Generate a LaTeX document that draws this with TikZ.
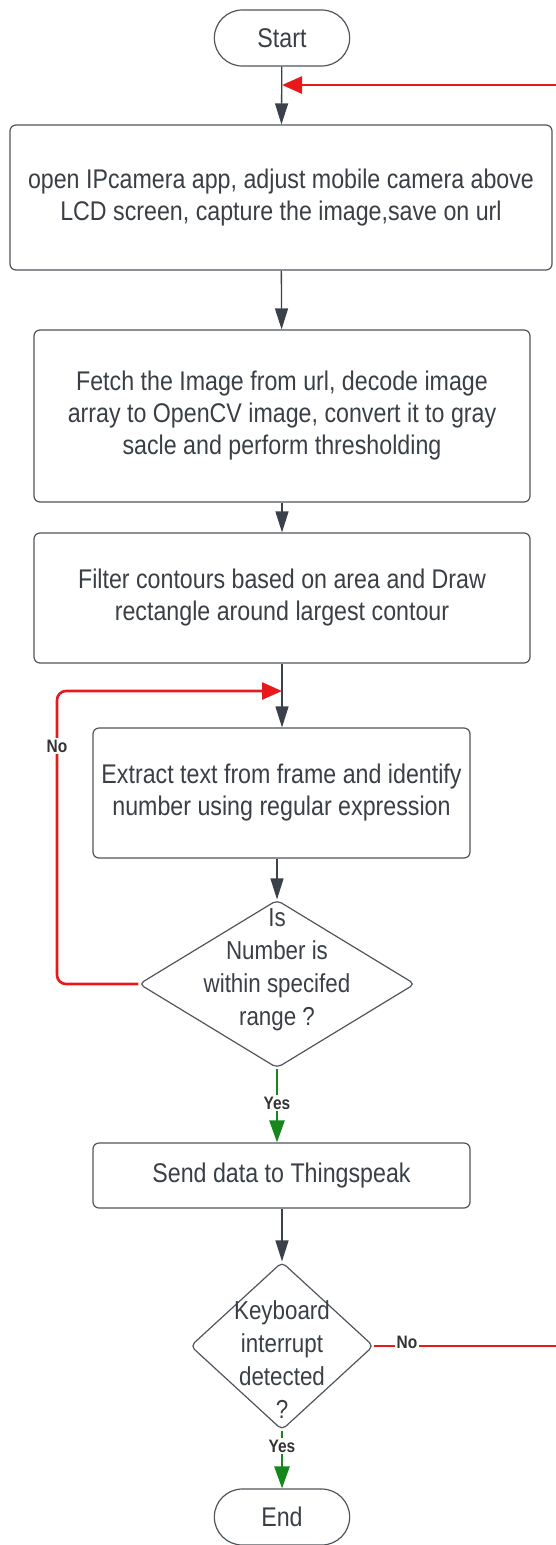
\documentclass[tikz,border=0pt]{standalone}
\usepackage{fontspec}
\setmainfont{Liberation Sans}[FakeStretch=0.86]
\usetikzlibrary{shapes.geometric,shapes.misc,arrows.meta}
\definecolor{lnc}{HTML}{50555C}
\definecolor{arc}{HTML}{3A414B}
\definecolor{txc}{HTML}{3A3F46}
\definecolor{rdc}{HTML}{E8191C}
\definecolor{gnc}{HTML}{16881B}
\tikzset{
    TE/.style ={rounded rectangle, draw=lnc, line width=1.2pt, minimum width=142pt, minimum height=56pt, text=txc, font=\fontsize{27}{32}\selectfont},
    RA/.style ={rectangle, rounded corners=6pt, draw=lnc, line width=1.2pt, inner sep=0pt, align=center, text=txc, font=\fontsize{27}{32}\selectfont},
    DM/.style ={diamond, rounded corners=5pt, draw=lnc, line width=1.2pt, inner sep=0pt},
    DT/.style ={align=center, text=txc, font=\fontsize{26}{33}\selectfont},
    AR/.style ={draw=arc, line width=1.3pt, -{Triangle[length=21pt,width=13pt]}},
    RL/.style ={draw=rdc, line width=2.6pt},
    GL/.style ={draw=gnc, line width=2.6pt, -{Triangle[length=22pt,width=15pt]}},
    SU/.style ={fill=white, inner sep=2pt, text=black!80, font=\bfseries\fontsize{18}{20}\selectfont}}

\begin{document}
\begin{tikzpicture}[x=1pt,y=-1pt]
        \useasboundingbox (0,0) rectangle (556,1545);
        \node[TE] (1) at(282,38){Start};
        \node[RA, minimum width=542pt, minimum height=145pt] (2) at(281,197.5){open IPcamera app, adjust mobile camera above\\LCD screen, capture the image,save on url};
        \node[RA, minimum width=496pt, minimum height=172pt] (3) at(282,416){Fetch the Image from url, decode image\\array to OpenCV image, convert it to gray\\sacle and perform thresholding};
        \node[RA, minimum width=496pt, minimum height=130pt] (4) at(282,598){Filter contours based on area and Draw\\rectangle around largest contour};
        \node[RA, minimum width=377pt, minimum height=130pt] (5) at(281.5,793){Extract text from frame and identify\\number using regular expression};
        \node[DM, minimum width=276pt, minimum height=168pt] (6) at(277,984){};
        \node[DT] (6t) at(277,970){Is\\Number is\\within specifed\\range ?};
        \node[RA, minimum width=377pt, minimum height=65pt] (7) at(281.5,1175.5){Send data to Thingspeak};
        \node[DM, minimum width=183pt, minimum height=168pt] (8) at(282,1346){};
        \node[DT] (8t) at(282,1360){Keyboard\\interrupt\\detected\\?};
        \node[TE] (9) at(282,1517){End};
        \coordinate (j1) at(282,85);
        \coordinate (j2) at(282,691);
        \coordinate (c1) at(57,691);
        \coordinate (r1) at(600,1346);
        \coordinate (r2) at(600,85);
        \draw[AR] (1) --(2);
        \draw[AR] (2) --(3);
        \draw[AR] (3) --(4);
        \draw[AR] (4.south) --(5.north -| 4.south);
        \draw[AR] (5.south -| 6.north) --(6.north);
        \draw[AR] (7.south -| 8.north) --(8.north);
        \draw[RL, rounded corners=9pt, -{Triangle[length=20pt,width=17pt]}] (6.west) -| (c1) --(j2);
        \draw[RL, -{Triangle[length=20pt,width=17pt]}] (8.east) --(r1) --(r2) --(j1);
        \draw[GL] (6.south) --(7.north -| 6.south);
        \draw[GL] (8.south) --(9.north);
        \node[SU] (n1) at(57,746){No};
        \node[SU] (n2) at(407,1342){No};
        \node[SU] (y1) at(277,1103){Yes};
        \node[SU] (y2) at(282,1446){Yes};
    \end{tikzpicture}
\end{document}
